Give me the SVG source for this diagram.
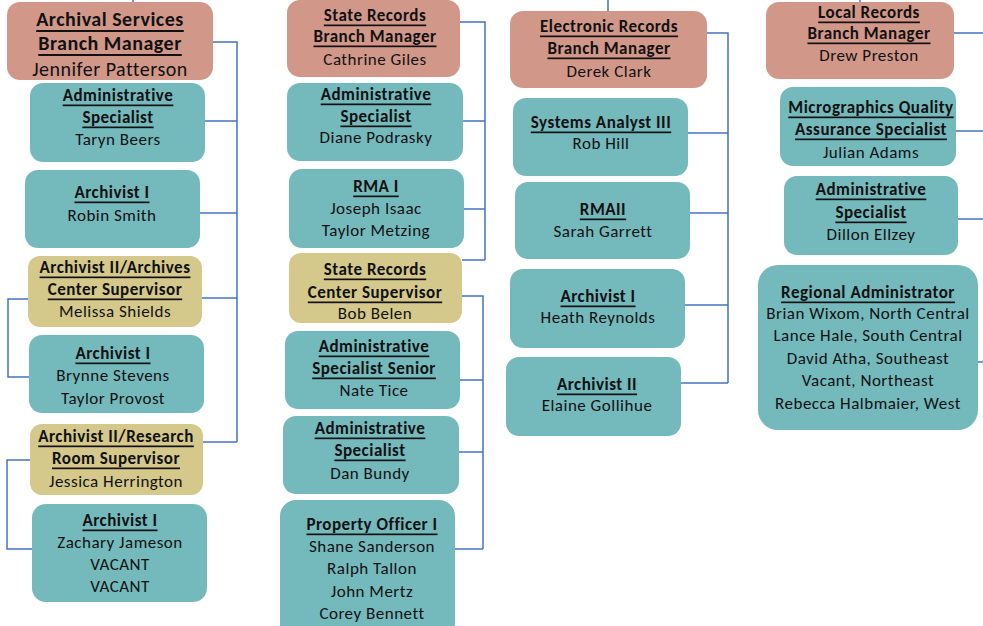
<svg xmlns="http://www.w3.org/2000/svg" width="983" height="626" viewBox="0 0 983 626">
<style>
  .mgr { fill: #D1988A; }
  .tl { fill: #74BABD; }
  .sup { fill: #D4C88B; }
  text { font-family: Carlito, Lato, "Liberation Sans", sans-serif; font-size: 17px; letter-spacing: 0.5px; fill: #111; text-anchor: middle; dominant-baseline: central; }
  .b { font-weight: bold; text-decoration: underline; }
  .big { font-size: 20px; }
  .conn path { fill: none; stroke: #4472C4; stroke-width: 1.5; }
</style>
<rect width="983" height="626" fill="#ffffff"/>
<g class="conn" id="connectors">
  <path d="M133,0 V3"/>
  <path d="M213,42 H237 V442"/>
  <path d="M205,121 H237"/>
  <path d="M200,213 H237"/>
  <path d="M202,298 H237"/>
  <path d="M203,442 H237"/>
  <path d="M28,299 H8 V377 H29"/>
  <path d="M30,460 H7 V549 H32"/>
  <path d="M460,22 H485 V260"/>
  <path d="M463,121 H485"/>
  <path d="M464,209 H485"/>
  <path d="M462,260 H485"/>
  <path d="M462,296 H483 V549"/>
  <path d="M460,380 H483"/>
  <path d="M459,452 H483"/>
  <path d="M455,549 H483"/>
  <path d="M608,0 V11"/>
  <path d="M707,33 H728 V383"/>
  <path d="M688,133 H728"/>
  <path d="M690,213 H728"/>
  <path d="M685,305 H728"/>
  <path d="M681,383 H728"/>
  <path d="M860,0 V3"/>
  <path d="M954,33 H983"/>
  <path d="M956,131 H983"/>
  <path d="M958,219 H983"/>
  <path d="M978,362 H983"/>
</g>

<g id="archival-manager">
  <rect class="mgr" x="7" y="2" width="206" height="78" rx="13"/>
  <text class="b big" x="110" y="19">Archival Services</text>
  <text class="b big" x="110" y="43">Branch Manager</text>
  <text class="big" x="110" y="69">Jennifer Patterson</text>
</g>
<g id="arch-admin-spec">
  <rect class="tl" x="30" y="83" width="175" height="79" rx="13"/>
  <text class="b" x="118" y="95">Administrative</text>
  <text class="b" x="118" y="117">Specialist</text>
  <text x="118" y="139">Taryn Beers</text>
</g>
<g id="arch-archivist-1a">
  <rect class="tl" x="25" y="170" width="175" height="78" rx="13"/>
  <text class="b" x="112" y="192">Archivist I</text>
  <text x="112" y="215">Robin Smith</text>
</g>
<g id="arch-center-sup">
  <rect class="sup" x="28" y="256" width="174" height="71" rx="12"/>
  <text class="b" x="115" y="267">Archivist II/Archives</text>
  <text class="b" x="115" y="289">Center Supervisor</text>
  <text x="115" y="311">Melissa Shields</text>
</g>
<g id="arch-archivist-1b">
  <rect class="tl" x="29" y="335" width="175" height="78" rx="13"/>
  <text class="b" x="113" y="353">Archivist I</text>
  <text x="113" y="375">Brynne Stevens</text>
  <text x="113" y="398">Taylor Provost</text>
</g>
<g id="arch-research-sup">
  <rect class="sup" x="30" y="424" width="173" height="71" rx="12"/>
  <text class="b" x="116" y="436">Archivist II/Research</text>
  <text class="b" x="116" y="458">Room Supervisor</text>
  <text x="116" y="481">Jessica Herrington</text>
</g>
<g id="arch-archivist-1c">
  <rect class="tl" x="32" y="504" width="175" height="98" rx="14"/>
  <text class="b" x="120" y="520">Archivist I</text>
  <text x="120" y="542">Zachary Jameson</text>
  <text x="120" y="564">VACANT</text>
  <text x="120" y="586">VACANT</text>
</g>

<g id="state-manager">
  <rect class="mgr" x="287" y="0" width="173" height="77" rx="13"/>
  <text class="b" x="375" y="15">State Records</text>
  <text class="b" x="375" y="36">Branch Manager</text>
  <text x="375" y="59">Cathrine Giles</text>
</g>
<g id="state-admin-spec">
  <rect class="tl" x="287" y="83" width="176" height="78" rx="13"/>
  <text class="b" x="376" y="94">Administrative</text>
  <text class="b" x="376" y="116">Specialist</text>
  <text x="376" y="137">Diane Podrasky</text>
</g>
<g id="state-rma1">
  <rect class="tl" x="289" y="169" width="175" height="79" rx="13"/>
  <text class="b" x="376" y="186">RMA I</text>
  <text x="376" y="208">Joseph Isaac</text>
  <text x="376" y="230">Taylor Metzing</text>
</g>
<g id="state-center-sup">
  <rect class="sup" x="289" y="253" width="173" height="70" rx="12"/>
  <text class="b" x="375" y="269">State Records</text>
  <text class="b" x="375" y="292">Center Supervisor</text>
  <text x="375" y="313">Bob Belen</text>
</g>
<g id="state-admin-senior">
  <rect class="tl" x="285" y="331" width="175" height="78" rx="13"/>
  <text class="b" x="374" y="346">Administrative</text>
  <text class="b" x="374" y="368">Specialist Senior</text>
  <text x="374" y="390">Nate Tice</text>
</g>
<g id="state-admin-spec-2">
  <rect class="tl" x="283" y="416" width="176" height="78" rx="13"/>
  <text class="b" x="370" y="428">Administrative</text>
  <text class="b" x="370" y="450">Specialist</text>
  <text x="370" y="473">Dan Bundy</text>
</g>
<g id="state-property-officer">
  <rect class="tl" x="280" y="500" width="175" height="140" rx="16"/>
  <text class="b" x="372" y="524">Property Officer I</text>
  <text x="372" y="546">Shane Sanderson</text>
  <text x="372" y="568">Ralph Tallon</text>
  <text x="372" y="591">John Mertz</text>
  <text x="372" y="613">Corey Bennett</text>
</g>

<g id="electronic-manager">
  <rect class="mgr" x="510" y="11" width="197" height="77" rx="13"/>
  <text class="b" x="609" y="26">Electronic Records</text>
  <text class="b" x="609" y="48">Branch Manager</text>
  <text x="609" y="71">Derek Clark</text>
</g>
<g id="elec-systems-analyst">
  <rect class="tl" x="513" y="98" width="175" height="78" rx="13"/>
  <text class="b" x="601" y="122">Systems Analyst III</text>
  <text x="601" y="143">Rob Hill</text>
</g>
<g id="elec-rma2">
  <rect class="tl" x="515" y="182" width="175" height="77" rx="13"/>
  <text class="b" x="603" y="209">RMAII</text>
  <text x="603" y="231">Sarah Garrett</text>
</g>
<g id="elec-archivist-1">
  <rect class="tl" x="510" y="269" width="175" height="79" rx="13"/>
  <text class="b" x="598" y="296">Archivist I</text>
  <text x="598" y="317">Heath Reynolds</text>
</g>
<g id="elec-archivist-2">
  <rect class="tl" x="506" y="357" width="175" height="79" rx="13"/>
  <text class="b" x="597" y="384">Archivist II</text>
  <text x="597" y="405">Elaine Gollihue</text>
</g>

<g id="local-manager">
  <rect class="mgr" x="766" y="2" width="188" height="77" rx="13"/>
  <text class="b" x="869" y="12">Local Records</text>
  <text class="b" x="869" y="33">Branch Manager</text>
  <text x="869" y="55">Drew Preston</text>
</g>
<g id="local-micrographics">
  <rect class="tl" x="780" y="87" width="176" height="79" rx="13"/>
  <text class="b" x="871" y="107">Micrographics Quality</text>
  <text class="b" x="871" y="129">Assurance Specialist</text>
  <text x="871" y="152">Julian Adams</text>
</g>
<g id="local-admin-spec">
  <rect class="tl" x="784" y="176" width="174" height="79" rx="13"/>
  <text class="b" x="871" y="189">Administrative</text>
  <text class="b" x="871" y="212">Specialist</text>
  <text x="871" y="234">Dillon Ellzey</text>
</g>
<g id="local-regional-admin">
  <rect class="tl" x="758" y="265" width="220" height="165" rx="20"/>
  <text class="b" x="868" y="292"> Regional Administrator</text>
  <text x="868" y="313">Brian Wixom, North Central</text>
  <text x="868" y="335">Lance Hale, South Central</text>
  <text x="868" y="358">David Atha, Southeast</text>
  <text x="868" y="380">Vacant, Northeast</text>
  <text x="868" y="403">Rebecca Halbmaier, West</text>
</g>
</svg>
